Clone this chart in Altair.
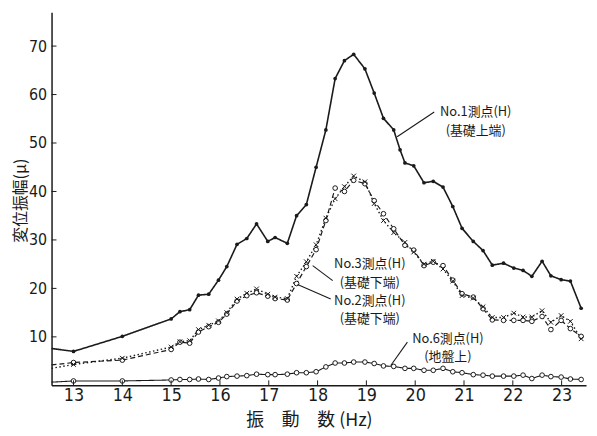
import altair as alt
import pandas as pd

# ---- data ----
freq_no1 = [13.0, 14.0, 15.0, 15.18, 15.38, 15.56, 15.77, 15.97, 16.14, 16.35, 16.55, 16.75, 16.98,
            17.13, 17.38, 17.57, 17.77, 17.97, 18.17, 18.36, 18.55, 18.74, 18.97, 19.16, 19.35, 19.56,
            19.69, 19.79, 19.97, 20.18, 20.37, 20.57, 20.77, 20.96, 21.19, 21.39, 21.58, 21.81, 22.02,
            22.21, 22.39, 22.6, 22.78, 22.99, 23.18, 23.4]
amp_no1 = [7.0, 10.1, 13.7, 15.2, 15.6, 18.6, 18.8, 21.7, 24.5, 29.1, 30.3, 33.3, 29.7,
           30.5, 29.3, 35.0, 37.3, 45.0, 52.7, 63.3, 67.0, 68.3, 65.3, 60.3, 55.1, 52.7,
           48.6, 45.9, 45.3, 41.8, 42.1, 40.9, 36.9, 32.4, 29.7, 27.8, 24.8, 25.2, 24.2,
           23.7, 22.5, 25.6, 22.6, 21.8, 21.5, 15.9]

freq = [13.0, 14.0, 15.0, 15.18, 15.38, 15.56, 15.77, 15.97, 16.14, 16.35, 16.55, 16.75, 16.98,
        17.13, 17.38, 17.57, 17.77, 17.97, 18.17, 18.36, 18.55, 18.74, 18.97, 19.16, 19.35, 19.56,
        19.79, 19.97, 20.18, 20.37, 20.57, 20.77, 20.96, 21.19, 21.39, 21.58, 21.81, 22.02,
        22.21, 22.39, 22.6, 22.78, 22.99, 23.18, 23.4]
amp_no2 = [4.7, 5.2, 7.4, 8.9, 8.7, 11.0, 12.1, 13.0, 14.7, 17.4, 18.5, 19.1, 18.4,
           17.9, 17.6, 21.0, 24.5, 28.0, 34.0, 40.7, 40.0, 42.3, 41.6, 38.1, 35.4, 32.3,
           28.9, 27.9, 24.7, 25.4, 24.7, 21.7, 18.9, 18.2, 15.8, 13.5, 13.4, 13.4,
           13.4, 13.2, 14.2, 11.5, 13.4, 11.7, 10.1]
amp_no3 = [4.3, 5.6, 7.9, 9.0, 9.2, 11.5, 12.4, 13.3, 15.0, 17.8, 19.0, 19.9, 18.8,
           18.2, 17.9, 22.5, 25.5, 29.0, 34.5, 38.5, 41.0, 43.2, 42.0, 37.5, 34.0, 31.5,
           29.5, 27.5, 25.0, 25.6, 24.0, 21.5, 18.5, 18.0, 16.2, 14.0, 14.0, 14.9,
           14.1, 14.1, 15.4, 13.0, 14.4, 13.2, 9.6]
amp_no6 = [0.9, 0.9, 1.1, 1.2, 1.2, 1.3, 1.2, 1.5, 1.8, 1.9, 2.0, 2.3, 2.2,
           2.2, 2.3, 2.6, 2.6, 2.8, 3.8, 4.6, 4.6, 4.8, 4.8, 4.5, 4.0, 3.9,
           3.5, 3.5, 3.1, 3.1, 3.5, 2.8, 2.6, 2.2, 2.1, 1.9, 1.9, 1.9,
           2.1, 1.4, 2.1, 1.8, 1.7, 1.3, 1.2]

# values where each curve meets the left edge of the plot
edge_freq = 12.55
edge_amp = {"No.1": 7.6, "No.2": 4.2, "No.3": 3.5, "No.6": 0.65}

x_ticks = [13, 14, 15, 16, 17, 18, 19, 20, 21, 22, 23]
y_ticks = [10, 20, 30, 40, 50, 60, 70]

ann_x = [21.24, 21.24, 19.07, 19.07, 19.07, 19.07, 20.67, 20.67]
ann_y = [56.4, 52.5, 25.1, 21.2, 17.3, 13.6, 9.5, 5.9]
ann_text = ["No.1測点(H)", "(基礎上端)", "No.3測点(H)", "(基礎下端)",
            "No.2測点(H)", "(基礎下端)", "No.6測点(H)", "(地盤上)"]

lead_x = [20.39, 18.31, 18.27, 19.84]
lead_y = [56.4, 21.6, 17.8, 8.9]
lead_x2 = [19.63, 17.9, 17.59, 19.5]
lead_y2 = [51.3, 24.7, 20.8, 4.1]

# ---- tables ----
def series(name, xs, ys):
    return pd.DataFrame({"f": xs, "a": ys, "s": name})

pts = {
    "No.1": series("No.1", freq_no1, amp_no1),
    "No.2": series("No.2", freq, amp_no2),
    "No.3": series("No.3", freq, amp_no3),
    "No.6": series("No.6", freq, amp_no6),
}
lines = {k: pd.concat([series(k, [edge_freq], [edge_amp[k]]), v], ignore_index=True)
         for k, v in pts.items()}

W, H = 540, 377
XD = [12.55, 23.5]
YD = [0, 77]
INK = "#1a1a1a"
NUM_FONT = "Liberation Sans Narrow, DejaVu Sans Condensed, sans-serif"
CJK_FONT = "Noto Sans CJK JP"

xs = alt.Scale(domain=XD, nice=False, zero=False)
ys = alt.Scale(domain=YD, nice=False)

x_enc = alt.X("f:Q", scale=xs, axis=alt.Axis(
    values=x_ticks, ticks=False, grid=False, domainColor=INK, domainWidth=1.5,
    labelFont=NUM_FONT, labelFontSize=18, labelColor=INK, labelPadding=1,
    title="振　動　数 (Hz)", titleFont=CJK_FONT, titleFontSize=18, titleFontWeight="normal",
    titleColor=INK, titleX=260, titleY=36, titleBaseline="middle", titleAlign="center"))
y_enc = alt.Y("a:Q", scale=ys, axis=alt.Axis(
    values=y_ticks, ticks=False, grid=False, domainColor=INK, domainWidth=1.5,
    labelFont=NUM_FONT, labelFontSize=16, labelColor=INK, labelPadding=5,
    title="変位振幅(μ)", titleFont=CJK_FONT, titleFontSize=16, titleFontWeight="normal",
    titleColor=INK, titleX=-31, titleY=190, titleAngle=-90, titleBaseline="middle",
    titleAlign="center"))

layers = []
dash = {"No.1": [1, 0], "No.2": [5, 3], "No.3": [1.5, 2.5], "No.6": [1, 0]}
widths = {"No.1": 1.6, "No.2": 1.2, "No.3": 1.4, "No.6": 1.1}
for k in ["No.6", "No.2", "No.3", "No.1"]:
    layers.append(alt.Chart(lines[k]).mark_line(
        color=INK, strokeWidth=widths[k], strokeDash=dash[k]).encode(x=x_enc, y=y_enc))

layers.append(alt.Chart(pts["No.1"]).mark_point(
    shape="circle", filled=True, size=14, color=INK, opacity=1).encode(x="f:Q", y="a:Q"))
layers.append(alt.Chart(pts["No.2"]).mark_point(
    shape="circle", filled=True, size=22, fill="white", stroke=INK, strokeWidth=1,
    opacity=1).encode(x="f:Q", y="a:Q"))
layers.append(alt.Chart(pts["No.3"]).mark_point(
    shape="M-1,-1L1,1M-1,1L1,-1", filled=False, size=22, color=INK, strokeWidth=1,
    opacity=1).encode(x="f:Q", y="a:Q"))
layers.append(alt.Chart(pts["No.6"]).mark_point(
    shape="circle", filled=True, size=22, fill="white", stroke=INK, strokeWidth=1,
    opacity=1).encode(x="f:Q", y="a:Q"))

lead_df = pd.DataFrame({"x": lead_x, "y": lead_y, "x2": lead_x2, "y2": lead_y2})
layers.append(alt.Chart(lead_df).mark_rule(color=INK, strokeWidth=1.1).encode(
    x="x:Q", y="y:Q", x2="x2:Q", y2="y2:Q"))

ann_df = pd.DataFrame({"x": ann_x, "y": ann_y, "t": ann_text})
layers.append(alt.Chart(ann_df).mark_text(
    font=CJK_FONT, fontSize=13, color=INK, align="center", baseline="middle").encode(
    x="x:Q", y="y:Q", text="t:N"))

# inward ticks
xt_df = pd.DataFrame({"v": x_ticks})
layers.append(alt.Chart(xt_df).mark_rule(color=INK, strokeWidth=1).encode(
    x="v:Q", y=alt.value(H), y2=alt.value(H - 5)))
yt_df = pd.DataFrame({"v": y_ticks})
layers.append(alt.Chart(yt_df).mark_rule(color=INK, strokeWidth=1).encode(
    y="v:Q", x=alt.value(0), x2=alt.value(5)))

chart = alt.layer(*layers).properties(
    width=W, height=H,
    padding={"left": 44, "top": 2, "right": 3, "bottom": 49},
    autosize=alt.AutoSizeParams(type="none"),
    background="white",
).configure_view(stroke=None)

chart.save("out.html", embed_options={"renderer": "svg", "actions": False})
